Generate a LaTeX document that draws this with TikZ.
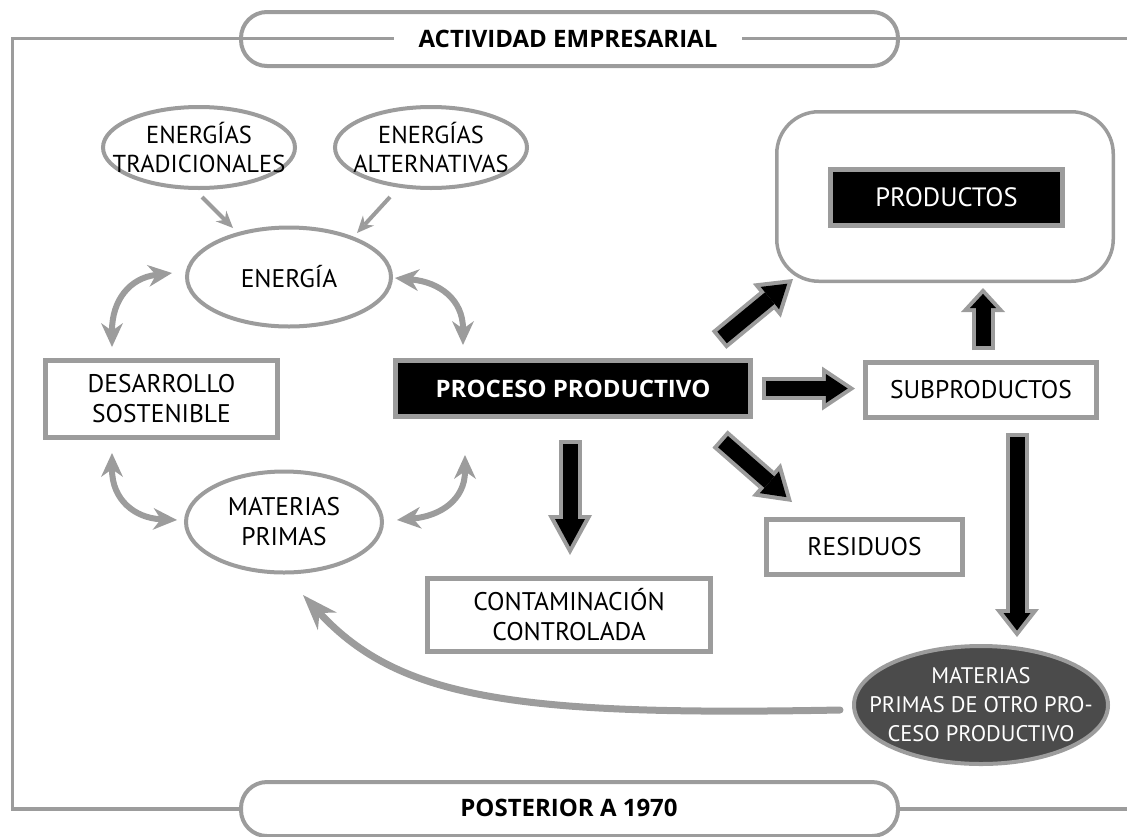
\documentclass[tikz,border=0pt]{standalone}
\usepackage{fontspec}
\setmainfont{PT Sans}
\newfontfamily\headfont{Open Sans}
\usetikzlibrary{arrows.meta,shapes.geometric,calc}

\definecolor{linegray}{HTML}{9C9C9C}
\definecolor{slate}{HTML}{4B4B4B}

% Fat black arrow with a gray rim: gray silhouette first, black core on top.
% #1 from, #2 to, #3 outer head length, #4 inner head length, #5 inner head width, #6 tip setback
\newcommand\fatarrow[6]{%
  \draw[fatouter, -{Triangle[length=#3, width=44pt, line width=0pt]}] (#1) -- (#2);
  \draw[fatinner, shorten <=4pt, shorten >=#6,
        -{Triangle[length=#4, width=#5, line width=0pt]}] (#1) -- (#2);
}

\begin{document}
\begin{tikzpicture}[x=1pt, y=-1pt,
  every node/.style={inner sep=0pt, outer sep=0pt},
  txt/.style={font=\fontsize{25.5}{30}\selectfont, align=center},
  smalltxt/.style={font=\fontsize{24.5}{29}\selectfont, align=center},
  oval/.style={ellipse, draw=linegray, line width=4pt, fill=white,
               inner xsep=-90pt, inner ysep=-40pt},
  darkoval/.style={oval, fill=slate, text=white,
                   font=\fontsize{22.5}{29}\selectfont, align=center},
  box/.style={rectangle, draw=linegray, line width=5pt, fill=white, txt},
  blackbox/.style={rectangle, draw=linegray, line width=5pt, fill=black, text=white, txt},
  roundframe/.style={rectangle, draw=linegray, line width=3.5pt, rounded corners=42pt},
  banner/.style={rectangle, draw=linegray, line width=4pt, fill=white, rounded corners=26pt,
                 minimum width=657pt, minimum height=54pt},
  title/.style={font=\headfont\bfseries\fontsize{24}{28}\selectfont},
  frameline/.style={draw=linegray, line width=3.5pt},
  thinarrow/.style={draw=linegray, line width=4pt,
                    -{Stealth[length=17pt, width=15pt, line width=0pt]}},
  twoway/.style={draw=linegray, line width=6pt,
                 {Stealth[length=24pt, width=22pt, line width=0pt]}-{Stealth[length=24pt, width=22pt, line width=0pt]}},
  loopback/.style={draw=linegray, line width=7pt, line cap=round,
                   -{Stealth[length=36pt, width=26pt, line width=0pt]}},
  fatouter/.style={draw=linegray, line width=23pt},
  fatinner/.style={draw=black, line width=15pt},
]
\useasboundingbox (0,0) rectangle (1127,836);
\clip (0,0) rectangle (1127,836);

% ---- banners and outer frame ----
\node[banner] (topband) at (569.5,39) {};
\node[title] (acttext) at (568,38.5) {ACTIVIDAD EMPRESARIAL};
\node[banner] (botband) at (569.5,809) {};
\node[title] (postext) at (569,808) {POSTERIOR A 1970};

\coordinate (tl) at (12.5,38.5);
\coordinate (bl) at (12.5,809);
\coordinate (tr) at (1127,38.5);
\coordinate (br) at (1127,809);

\draw[frameline] ($(acttext.west)+(-25,0)$) -- (tl) -- (bl) -- (botband.west);
\draw[frameline] ($(acttext.east)+(25,0)$) -- (tr);
\draw[frameline] (botband.east) -- (br);

% ---- energy sources and inputs ----
\node[oval, smalltxt, minimum width=192pt, minimum height=81pt] (tradic) at (199,147.5) {ENERGÍAS\\TRADICIONALES};
\node[oval, smalltxt, minimum width=192pt, minimum height=81pt] (altern) at (431,147.5) {ENERGÍAS\\ALTERNATIVAS};
\node[oval, txt, minimum width=204pt, minimum height=99pt] (energia) at (289,277) {ENERGÍA};
\node[oval, txt, minimum width=196pt, minimum height=101pt] (materias) at (284,522) {MATERIAS\\PRIMAS};
\node[box, minimum width=232pt, minimum height=77pt] (desarrollo) at (161.5,399) {DESARROLLO\\SOSTENIBLE};

% ---- production and outputs ----
\node[blackbox, font=\headfont\bfseries\fontsize{24}{28}\selectfont, minimum width=355pt, minimum height=56pt] (proceso) at (573,388.5) {PROCESO PRODUCTIVO};
\node[roundframe, minimum width=336.5pt, minimum height=169.5pt] (prodframe) at (945,196.5) {};
\node[blackbox, font=\fontsize{26.5}{30}\selectfont, minimum width=232pt, minimum height=56pt] (productos) at (946.5,197.5) {PRODUCTOS};
\node[box, minimum width=231pt, minimum height=55pt] (subprod) at (981,390) {SUBPRODUCTOS};
\node[box, minimum width=196pt, minimum height=55pt] (residuos) at (864.5,547) {RESIDUOS};
\node[box, minimum width=283pt, minimum height=73pt] (contam) at (569,615) {CONTAMINACIÓN\\CONTROLADA};
\node[darkoval, minimum width=254pt, minimum height=118pt] (otro) at (981,705) {MATERIAS\\PRIMAS DE OTRO PRO-\\CESO PRODUCTIVO};

% ---- connector end points ----
\coordinate (tradic-out) at (202,197);
\coordinate (energia-in1) at (233,228);
\coordinate (altern-out) at (390,197);
\coordinate (energia-in2) at (357,233);

\coordinate (desa-top) at (112,347);
\coordinate (ener-left) at (172,273);
\coordinate (ener-right) at (395,278);
\coordinate (proc-topleft) at (463,345);
\coordinate (desa-bot) at (112,453);
\coordinate (mat-left) at (177,520);
\coordinate (proc-botleft) at (465,455);
\coordinate (mat-right) at (397,520);

\coordinate (proc-ne) at (719,340);
\coordinate (frame-sw) at (793,279);
\coordinate (proc-e) at (762,388.5);
\coordinate (sub-w) at (855,388.5);
\coordinate (sub-n) at (983,350);
\coordinate (frame-s) at (983,288);
\coordinate (sub-s) at (1017,433);
\coordinate (otro-n) at (1017,637);
\coordinate (proc-s) at (570,440);
\coordinate (contam-n) at (570,555);
\coordinate (proc-se) at (720,439);
\coordinate (resid-nw) at (792,502);

\coordinate (otro-w) at (840,710);
\coordinate (mat-s) at (303,595);

% ---- thin feed arrows ----
\draw[thinarrow] (tradic-out) -- (energia-in1);
\draw[thinarrow] (altern-out) -- (energia-in2);

% ---- two-way curved arrows ----
\draw[twoway] (desa-top) .. controls (112,300) and (130,278) .. (ener-left);
\draw[twoway] (proc-topleft) .. controls (463,300) and (440,282) .. (ener-right);
\draw[twoway] (desa-bot) .. controls (112,500) and (135,518) .. (mat-left);
\draw[twoway] (proc-botleft) .. controls (465,500) and (440,516) .. (mat-right);

% ---- fat output arrows ----
\fatarrow{proc-ne}{frame-sw}{34pt}{22.6pt}{29pt}{7.4pt}
\fatarrow{proc-e}{sub-w}{33pt}{21.8pt}{29pt}{7.3pt}
\fatarrow{sub-n}{frame-s}{24pt}{14.1pt}{26pt}{5.9pt}
\fatarrow{sub-s}{otro-n}{28pt}{17.5pt}{27pt}{6.5pt}
\fatarrow{proc-s}{contam-n}{40pt}{27.7pt}{30pt}{8.3pt}
\fatarrow{proc-se}{resid-nw}{34pt}{22.6pt}{29pt}{7.4pt}

% ---- recycling loop back to raw materials ----
\draw[loopback] (otro-w) .. controls (520,716) and (400,700) .. (mat-s);

\end{tikzpicture}
\end{document}
